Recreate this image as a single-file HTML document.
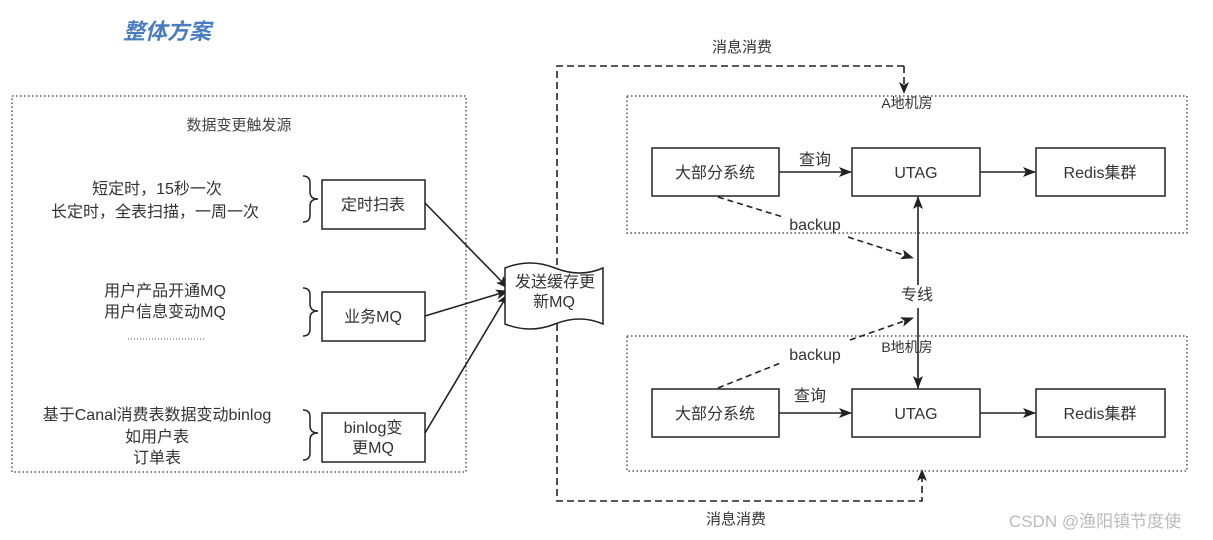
<!DOCTYPE html>
<html><head><meta charset="utf-8"><style>
html,body{margin:0;padding:0;background:#fff;}
body{width:1213px;height:540px;position:relative;overflow:hidden;font-family:"Liberation Sans","Noto Sans CJK SC",sans-serif;color:#333;}
</style></head><body>
<svg width="1213" height="540" viewBox="0 0 1213 540" style="position:absolute;left:0;top:0" font-family="Liberation Sans, Noto Sans CJK SC, sans-serif">
<defs>
<marker id="a" markerWidth="13" markerHeight="10" refX="12" refY="5" orient="auto" markerUnits="userSpaceOnUse"><path d="M0,0 L13,5 L0,10 L3,5 Z" fill="#222"/></marker>
</defs>
<text x="123" y="39" font-size="22" font-weight="bold" font-style="italic" fill="#4a7cc0">整体方案</text>
<rect x="12" y="96" width="454" height="376" fill="none" stroke="#555" stroke-width="1.5" stroke-dasharray="1.5,2.5"/>
<text x="239" y="130" font-size="15" text-anchor="middle" fill="#444">数据变更触发源</text>
<g font-size="16" text-anchor="middle" fill="#333">
<text x="157" y="194">短定时，15秒一次</text>
<text x="155" y="217">长定时，全表扫描，一周一次</text>
<text x="165" y="296">用户产品开通MQ</text>
<text x="165" y="317">用户信息变动MQ</text>
<text x="157" y="420">基于Canal消费表数据变动binlog</text>
<text x="157" y="442">如用户表</text>
<text x="157" y="463">订单表</text>
</g>
<line x1="128" y1="339" x2="204" y2="339" stroke="#555" stroke-dasharray="1,2"/>
<g fill="none" stroke="#222" stroke-width="1.5">
<path d="M303,176 Q310,176 310,183 L310,192 Q310,199 318,199 Q310,199 310,206 L310,215 Q310,222 303,222"/>
<path d="M303,288 Q310,288 310,295 L310,304 Q310,311 318,311 Q310,311 310,318 L310,329 Q310,336 303,336"/>
<path d="M303,410 Q310,410 310,417 L310,426 Q310,433 318,433 Q310,433 310,440 L310,453 Q310,460 303,460"/>
<rect x="322" y="180" width="103" height="49"/>
<rect x="322" y="292" width="103" height="49"/>
<rect x="322" y="413" width="103" height="49"/>
</g>
<g font-size="16" text-anchor="middle" fill="#333">
<text x="373" y="210">定时扫表</text>
<text x="373" y="322">业务MQ</text>
<text x="373" y="433">binlog变</text>
<text x="373" y="453">更MQ</text>
</g>
<g stroke="#222" stroke-width="1.6" fill="none">
<line x1="425" y1="203" x2="508" y2="288" marker-end="url(#a)"/>
<line x1="425" y1="316" x2="508" y2="291" marker-end="url(#a)"/>
<line x1="425" y1="433" x2="508" y2="294" marker-end="url(#a)"/>
</g>
<g stroke="#222" stroke-width="1.6" fill="none" stroke-dasharray="7,4">
<path d="M904,66 L557,66 L557,501 L922,501 L922,478"/>
<line x1="904" y1="66" x2="904" y2="86"/>
</g>
<path d="M899,82 L904,94 L909,82 L904,85 Z" fill="#222"/>
<path d="M917,481 L922,469 L927,481 L922,478 Z" fill="#222"/>
<path d="M505,268 Q530,258 555,268 Q580,278 603,268 L603,324 Q580,314 555,324 Q530,334 505,324 Z" fill="#fff" stroke="#222" stroke-width="1.5"/>
<text x="555" y="287" font-size="16" text-anchor="middle" fill="#333">发送缓存更</text>
<text x="554" y="307" font-size="16" text-anchor="middle" fill="#333">新MQ</text>
<text x="742" y="52" font-size="15" text-anchor="middle" fill="#333">消息消费</text>
<text x="736" y="524" font-size="15" text-anchor="middle" fill="#333">消息消费</text>
<rect x="627" y="96" width="560" height="137" fill="none" stroke="#555" stroke-width="1.5" stroke-dasharray="1.5,2.5"/>
<rect x="627" y="336" width="560" height="135" fill="none" stroke="#555" stroke-width="1.5" stroke-dasharray="1.5,2.5"/>
<text x="907" y="108" font-size="14" text-anchor="middle" fill="#333">A地机房</text>
<text x="907" y="352" font-size="14" text-anchor="middle" fill="#333">B地机房</text>
<g fill="#fff" stroke="#222" stroke-width="1.5">
<rect x="652" y="148" width="127" height="48"/>
<rect x="852" y="148" width="128" height="48"/>
<rect x="1036" y="148" width="129" height="48"/>
<rect x="652" y="389" width="127" height="48"/>
<rect x="852" y="389" width="128" height="48"/>
<rect x="1036" y="389" width="129" height="48"/>
</g>
<g font-size="16" text-anchor="middle" fill="#333">
<text x="715" y="178">大部分系统</text>
<text x="916" y="178">UTAG</text>
<text x="1100" y="178">Redis集群</text>
<text x="715" y="419">大部分系统</text>
<text x="916" y="419">UTAG</text>
<text x="1100" y="419">Redis集群</text>
<text x="815" y="165">查询</text>
<text x="810" y="401">查询</text>
<text x="917" y="300">专线</text>
<text x="815" y="230">backup</text>
<text x="815" y="360">backup</text>
</g>
<g stroke="#222" stroke-width="1.6" fill="none">
<line x1="779" y1="172" x2="851" y2="172" marker-end="url(#a)"/>
<line x1="980" y1="172" x2="1035" y2="172" marker-end="url(#a)"/>
<line x1="779" y1="413" x2="851" y2="413" marker-end="url(#a)"/>
<line x1="980" y1="413" x2="1035" y2="413" marker-end="url(#a)"/>
<line x1="918" y1="285" x2="918" y2="197" marker-end="url(#a)"/>
<line x1="918" y1="308" x2="918" y2="388" marker-end="url(#a)"/>
</g>
<g stroke="#222" stroke-width="1.6" fill="none" stroke-dasharray="6,4">
<path d="M718,197 L783,217"/>
<path d="M848,237 L913,258" marker-end="url(#a)"/>
<path d="M718,388 L783,362"/>
<path d="M850,340 L913,318" marker-end="url(#a)"/>
</g>
<text x="1095" y="527" font-size="17" text-anchor="middle" fill="#bbb">CSDN @渔阳镇节度使</text>
</svg>
</body></html>
